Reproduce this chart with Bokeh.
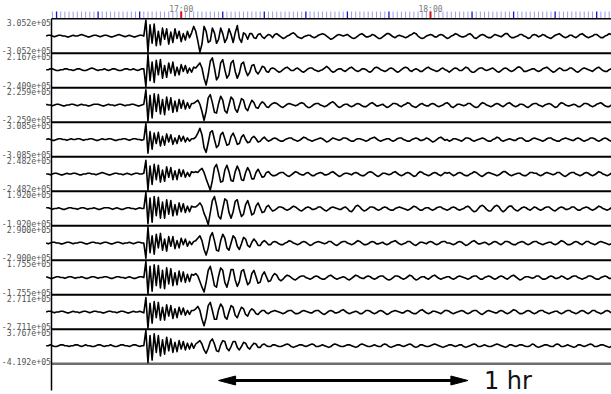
import numpy as np
from bokeh.plotting import figure
from bokeh.models import Range1d
from bokeh.embed import file_html
from bokeh.resources import INLINE
from bokeh.core.properties import value

# ---------------- data ----------------
# time in minutes after 16:00
hour_ticks = [60, 120]
hour_labels = ["17:00", "18:00"]

trace_max = [3.052e5, 2.167e5, 2.259e5, 3.085e5, 2.482e5, 1.920e5, 2.900e5, 1.755e5, 2.711e5, 3.767e5]
trace_min = [-3.052e5, -2.409e5, -2.259e5, -3.085e5, -2.482e5, -1.920e5, -2.900e5, -1.755e5, -2.711e5, -4.192e5]

SAMPLE_START = 27.5   # minutes after 16:00 of the first sample
SAMPLE_STEP = 0.5     # minutes
FULL_SCALE = 20       # sample units that equal the trace peak

scale_bar_start = 69      # minutes after 16:00
scale_bar_minutes = 60
scale_bar_label = "1 hr"

wave_01 = [
    0, 1, 1, 0, -1, 0, 1, 1, 0, 0, -1, -1, 0, 1, 0, 0,
    1, 2, 1, 0, -1, -1, 0, 1, 1, 0, -1, 0, 1, 1, 0, -1,
    -1, 0, 1, 2, 1, 0, -1, 0, 1, 0, -1, -1, 0, 1, 1, 0,
    20, -20, 14, -9, 15, -12, 6, -11, 10, -4, 9, -10,
    5, -8, 9, -3, 6, -7, 3, -5, 6, -2, 4, 12,
    6, -6, -20, -10, 12, 6, -8, -6, 10, 4, -9, -4, 10, 3, -8, -3, 9, 2, -8,
    4, 13, -3, -8, 4, 2, -4, 3, 3, -2, -3, 2, 3, -1, -3, 0, 2, 1, -2,
    2, 3, 1, -1, -3, -2, 0, 1, 3, 4, 2, -1, -2, -3, -1, 0, 1, 1, -1, -2, -1,
    1, 2, 3, 2, 0, -2, -4, -3, -1, 1, 2, 1, 0, 1, 2, 0, -2, -3, -2, 0, 2,
    3, 1, -1, -1, 0, 2, 1, -1, -3, -3, -1, 1, 3, 3, 1, -1, -2, 0, 1, 0, -1,
    -2, -1, 1, 2, 4, 3, 0, -2, -3, -2, 0, 1, 2, 1, -1, -1, 1, 2, 1, -1, -3,
    -2, 0, 1, 3, 2, 0, -1, -1, 0, 2, 3, 1, -2, -3, -1, 1, 2, 1, -1, -2, -2,
    0, 2, 1, 0, -1, 1, 3, 3, 0, -2, -2, -1, 0, 2, 2, 0, -1, -3, -2, 1, 2,
    1, -1, 0, 2, 1, -1, -2, -3, -1, 1, 2, 3, 1, -1, -2, -1, 1, 1, -1, -2, 0,
    2, 3, 1, -1, -2, -1, 0, 2, 2, 0, -2, -2, 0, 1, 3, 2, -1, -2, -1, 0, 1,
]

wave_02 = [
    0, 0, 1, 1, 0, -1, -1, 0, 0, 1, 1, 0, 0, -1, 0, 1,
    1, 0, -1, -1, 0, 1, 2, 1, 0, -1, 0, 0, 1, 0, -1, 0,
    1, 1, 0, -1, -1, 0, 1, 1, 0, 0, 1, 0, -1, 0, 1, 1,
    -20, 18, -13, 9, -15, 11, -6, 12, -10, 5, -9, 8,
    -4, 9, -7, 3, -6, 6, -2, 5, -4, 2, -3, 3,
    2, 5, 8, 2, -10, -18, -6, 10, 14, 2, -12, -8, 8, 12, 0, -10, -6, 8, 11,
    -2, -10, -4, 7, 9, -1, -7, -3, 5, 6, -2, -5, -1, 4, 3, -2, -3, 1, 2,
    1, -1, -3, -2, 0, 2, 3, 1, -1, -1, 1, 2, 0, -2, -3, -1, 1, 2, 2, 0, -1,
    -2, -1, 0, 2, 4, 2, -1, -3, -2, 0, 1, 1, -1, -2, 0, 2, 3, 1, -1, -2, -1,
    1, 1, 0, -2, -3, -1, 2, 3, 2, 0, -1, -2, -1, 1, 2, 1, -1, -3, -2, 0, 2,
    3, 2, -1, -2, 0, 1, 0, -2, -2, 0, 2, 3, 1, 0, -1, -2, -1, 1, 2, 0, -1,
    -3, -1, 1, 2, 1, -1, -1, 1, 3, 2, -1, -3, -3, -1, 1, 2, 2, 0, -1, 0, 1,
    2, 0, -2, -3, -1, 1, 2, 1, -1, -2, -1, 1, 3, 3, 1, -2, -2, -1, 0, 1, 1,
    -1, -2, -1, 1, 2, 3, 1, -1, -3, -2, 0, 2, 1, -1, -1, 0, 2, 2, 0, -2, -3,
    -1, 1, 2, 1, 0, -1, -2, 0, 2, 3, 1, -1, -2, -2, 0, 1, 2, 1, -1, -2, -1,
]

wave_03 = [
    1, 0, 0, -1, 0, 1, 1, 0, -1, -1, 0, 0, 1, 1, 0, -1,
    0, 1, 0, 0, -1, -1, 0, 1, 1, 1, 0, -1, -1, 0, 1, 0,
    0, -1, 0, 1, 1, 0, -1, 0, 0, 1, 1, 0, -1, -1, 0, 1,
    19, -20, 12, -16, 14, -8, 13, -11, 7, -12, 10, -6,
    9, -9, 5, -8, 7, -4, 6, -5, 3, -4, 2, 2,
    4, 6, 1, -8, -19, -8, 9, 13, 3, -9, -10, 2, 11, 6, -7, -10, 0, 10, 7,
    -5, -9, -1, 8, 6, -4, -7, 0, 6, 3, -3, -4, 1, 4, 2, -2, -3, 0, 2,
    3, 2, 0, -2, -3, -1, 1, 2, 1, 0, -1, 0, 2, 3, 2, -1, -3, -3, -1, 1, 2,
    2, 0, -1, -2, -1, 1, 3, 4, 2, -1, -3, -2, 0, 1, 1, -1, -2, -1, 1, 2, 1,
    -1, -2, -2, 0, 2, 3, 1, -1, -1, 0, 1, -1, -3, -2, 0, 2, 2, 1, -1, -2, 0,
    1, 3, 2, -1, -2, -3, -1, 1, 2, 0, -1, -1, 1, 2, 1, -1, -2, -1, 0, 2, 3,
    1, -2, -3, -1, 1, 1, 0, -1, 0, 2, 2, 0, -2, -3, -2, 1, 3, 2, 0, -1, -2,
    -1, 1, 2, 1, -1, -2, 0, 2, 3, 1, -1, -2, -1, 1, 1, 0, -2, -3, -1, 1, 2,
    2, 0, -1, -2, 0, 1, 2, 1, -1, -3, -2, 1, 3, 2, 0, -1, -1, 0, 1, 0, -2,
    -2, 0, 2, 2, 1, -1, -2, -1, 1, 2, 3, 1, -1, -2, -2, 0, 1, 2, 1, -1, -1,
]

wave_04 = [
    0, 1, 0, -1, -1, 0, 1, 1, 0, 0, -1, 0, 1, 0, 0, 1,
    1, 0, -1, 0, 0, 1, 1, 0, -1, -1, 0, 1, 0, 0, 1, 1,
    0, -1, -1, 0, 0, 1, 1, 0, -1, 0, 1, 1, 0, 0, -1, 0,
    20, -17, 10, -12, 8, -5, 9, -8, 4, -7, 7, -3,
    6, -6, 2, -5, 5, -2, 4, -3, 2, -2, 1, 1,
    3, 8, 14, 6, -10, -16, -4, 9, 11, 0, -10, -7, 6, 9, 1, -7, -6, 4, 8,
    2, -6, -5, 3, 6, 0, -4, -3, 2, 4, 1, -3, -2, 1, 3, 0, -2, -1, 1,
    2, 1, -1, -2, -2, 0, 1, 2, 2, 0, -1, -2, -1, 1, 3, 2, 0, -1, -2, -1, 0,
    1, 2, 1, -1, -3, -2, 0, 2, 1, 0, -1, 0, 2, 2, 1, -1, -2, -2, 0, 1, 1,
    0, -1, -2, -1, 1, 2, 3, 1, -1, -2, -1, 0, 1, 1, -1, -2, -1, 1, 2, 2, 0,
    -1, -2, -2, 0, 1, 2, 1, -1, -1, 0, 2, 1, -1, -3, -2, 0, 2, 3, 1, -1, 0,
    -2, -1, 1, 1, 0, -1, -2, 0, 2, 2, 1, -1, -2, -1, 0, 1, 2, 1, -1, -2, -2,
    0, 1, 3, 2, -1, -2, -1, 0, 1, 0, -1, -1, 1, 2, 2, 0, -2, -2, -1, 1, 2,
    1, 0, -1, -2, -1, 1, 2, 2, 0, -1, -2, -2, 0, 1, 2, 1, 0, -1, -1, 1, 2,
    1, -1, -2, -1, 0, 2, 2, 1, -1, -2, -1, 1, 2, 1, -1, -2, -2, 0, 1, 2, 1,
]

wave_05 = [
    0, 0, -1, 0, 1, 1, 0, -1, -1, 0, 1, 0, 0, 1, 1, 0,
    -1, -1, 0, 0, 1, 1, 0, 0, -1, 0, 1, 2, 1, 0, -1, -1,
    0, 1, 1, 0, 0, -1, 0, 1, 0, -1, 0, 1, 1, 0, 0, 1,
    17, -20, 10, -13, 12, -7, 11, -10, 5, -9, 9, -4,
    8, -7, 4, -7, 6, -3, 5, -4, 2, -3, 3, 2,
    3, 2, 5, 7, 2, -6, -13, -20, -8, 8, 12, 2, -10, -9, 5, 11, 3, -8, -9,
    3, 10, 4, -7, -8, 2, 8, 3, -6, -6, 2, 6, 1, -4, -3, 2, 3, 0, -2,
    -2, -1, 1, 2, 2, 0, -2, -3, -1, 1, 3, 2, 0, -1, -1, 1, 2, 0, -2, -2, 0,
    1, 2, 1, -1, -1, 0, 2, 3, 1, -1, -3, -2, 0, 1, 1, 0, -1, 1, 2, 1, -1,
    -2, -2, 0, 2, 3, 2, 0, -2, -3, -1, 1, 1, 0, -1, 0, 2, 3, 1, -1, -2, -1,
    1, 2, 1, -1, -3, -2, 1, 3, 2, 0, -1, -2, -1, 1, 2, 1, -1, -2, 0, 2, 1,
    2, 0, -2, -1, 1, 2, 1, -1, -2, -2, 0, 1, 3, 2, 0, -2, -3, -1, 1, 2, 1,
    0, -1, -2, -1, 1, 3, 3, 1, -1, -2, -1, 0, 1, 1, -1, -2, -2, 0, 2, 2, 1,
    1, -1, -2, -1, 1, 2, 1, 0, -1, 0, 2, 2, 0, -2, -3, -1, 1, 2, 2, 0, -1,
    -2, -1, 1, 2, 1, -1, -2, -1, 1, 3, 2, 0, -1, -2, -1, 1, 1, 0, -1, -2, 0,
]

wave_06 = [
    1, 1, 0, -1, 0, 0, 1, 0, -1, -1, 0, 1, 1, 0, 0, -1,
    0, 1, 1, 0, -1, 0, 0, 1, 0, -1, -1, 0, 1, 1, 1, 0,
    -1, 0, 1, 0, -1, -1, 0, 1, 1, 0, 0, -1, 0, 1, 0, 0,
    20, -19, 13, -17, 15, -9, 14, -12, 8, -12, 11, -7,
    10, -9, 5, -8, 7, -4, 6, -5, 3, -4, 3, 2,
    2, 4, 7, 3, -6, -12, -20, -5, 10, 15, 4, -10, -13, 0, 12, 10, -5, -12, -4,
    9, 11, -1, -10, -7, 5, 10, 2, -8, -6, 3, 7, 1, -5, -4, 2, 4, 0, -3,
    -2, 0, 2, 2, 1, -1, -2, -1, 1, 3, 2, 0, -2, -3, -1, 1, 2, 1, -1, -1, 0,
    2, 2, 0, -2, -3, -1, 1, 2, 1, 0, -1, -1, 1, 2, 0, -3, -4, -1, 3, 4, 2,
    -1, -3, -2, 0, 2, 2, 1, -1, -2, -1, 1, 2, 1, -1, -2, -2, 0, 1, 2, 1, 0,
    -1, -2, -1, 1, 3, 2, 0, -2, -2, 0, 1, 1, -1, -2, -1, 1, 2, 2, 0, -1, -2,
    -1, 1, 2, 1, -1, -2, -1, 0, 2, 3, 1, -2, -4, -3, 0, 3, 4, 2, -1, -3, -3,
    0, 3, 4, 2, -2, -4, -2, 1, 3, 3, 0, -2, -3, -1, 1, 2, 1, -1, -2, 0, 2,
    1, -1, -2, -1, 1, 2, 2, 0, -2, -3, -1, 1, 2, 1, -1, -1, 0, 2, 2, 0, -2,
    -2, 0, 1, 2, 1, -1, -2, -1, 1, 3, 2, 0, -1, -2, -1, 1, 2, 1, -1, -2, -1,
]

wave_07 = [
    0, -1, 0, 1, 1, 0, 0, -1, -1, 0, 1, 1, 0, -1, 0, 0,
    1, 1, 0, -1, -1, 0, 1, 1, 0, 0, -1, 0, 1, 1, 0, -1,
    -1, 0, 1, 1, 0, -1, 0, 0, 1, 0, -1, 0, 1, 1, 0, 0,
    -19, 20, -12, 9, -14, 11, -6, 12, -9, 5, -10, 8,
    -4, 8, -7, 3, -6, 6, -2, 5, -4, 2, -2, 2,
    3, 6, 9, 3, -8, -15, -6, 8, 13, 3, -9, -10, 3, 11, 6, -6, -9, 0, 9,
    6, -4, -8, -1, 7, 5, -3, -5, 1, 5, 2, -3, -3, 1, 3, 1, -2, -2, 1,
    2, 1, -1, -2, -2, 0, 1, 3, 2, 0, -1, -2, -1, 1, 2, 1, -1, -3, -2, 0, 1,
    2, 1, 0, -1, 0, 2, 2, 0, -2, -3, -1, 1, 2, 2, 0, -1, -2, -1, 1, 3, 2,
    0, -2, -2, -1, 1, 2, 1, -1, -1, 0, 1, -1, -2, -1, 1, 2, 3, 1, -1, -2, -1,
    0, 2, 2, 0, -2, -3, -1, 1, 1, 0, -1, 1, 2, 1, -1, -2, -1, 1, 2, 2, 0,
    0, -1, -2, -1, 1, 2, 1, -1, -3, -2, 0, 2, 3, 1, -1, -1, 0, 1, 0, -2, -1,
    1, 2, 1, -1, -2, 0, 2, 2, 1, -1, -2, -2, 0, 1, 2, 1, -1, -2, -1, 1, 2,
    2, 0, -1, -2, -1, 0, 1, 1, -1, -2, -1, 1, 3, 2, 0, -2, -2, -1, 1, 2, 1,
    -1, -2, 0, 2, 2, 0, -1, -2, -1, 1, 2, 1, 0, -1, -2, -1, 1, 2, 2, 0, -1,
]

wave_08 = [
    1, 0, -1, -1, 0, 1, 1, 0, 0, -1, 0, 1, 1, 0, -1, 0,
    0, 1, 0, -1, -1, 0, 1, 1, 0, -1, 0, 0, 1, 1, 0, -1,
    -1, 0, 1, 1, 0, 0, -1, 0, 1, 0, -1, -1, 0, 1, 1, 0,
    20, -20, 14, -17, 16, -10, 15, -13, 9, -14, 12, -8,
    11, -10, 6, -9, 8, -5, 7, -6, 4, -5, 4, 3,
    5, 2, -5, -12, -18, -6, 9, 14, 3, -10, -12, 2, 12, 9, -6, -12, -2, 10, 10,
    -3, -11, -5, 8, 10, 0, -9, -6, 5, 9, 1, -7, -6, 3, 7, 1, -5, -4, 2,
    5, 3, -2, -4, -2, 1, 3, 2, 0, -2, -3, -1, 1, 2, 2, 0, -1, -2, -1, 1, 2,
    1, -1, -2, -2, 0, 2, 3, 1, -1, -2, -1, 0, 1, 0, -2, -3, -1, 1, 3, 2, 0,
    -1, -1, 1, 2, 1, -1, -2, -1, 1, 2, 2, 0, -2, -3, -2, 0, 2, 2, 1, -1, -2,
    -1, 1, 3, 2, -1, -3, -2, 0, 1, 1, -1, -2, 0, 2, 3, 1, -1, -2, -1, 0, 1,
    1, -1, -2, -1, 1, 2, 1, 0, -1, -2, -1, 1, 2, 2, 0, -2, -2, 0, 1, 2, 1,
    -1, -2, -1, 1, 2, 1, -1, -2, 0, 2, 3, 1, -1, -3, -2, 0, 1, 1, 0, -1, 0,
    2, 2, 0, -2, -2, -1, 1, 2, 1, -1, -1, 0, 2, 1, -1, -2, -1, 1, 2, 2, 0,
    -1, -2, -1, 0, 2, 2, 1, -1, -2, -2, 0, 1, 2, 1, -1, -1, 0, 2, 2, 0, -2,
]

wave_09 = [
    0, 1, 1, 0, -1, 0, 0, 1, 1, 0, -1, -1, 0, 1, 0, 0,
    -1, 0, 1, 1, 0, -1, 0, 1, 1, 0, 0, -1, -1, 0, 1, 1,
    0, 0, -1, 0, 1, 1, 0, -1, -1, 0, 1, 0, 0, 1, 0, -1,
    18, -20, 11, -14, 13, -7, 12, -10, 6, -10, 9, -5,
    8, -8, 4, -7, 6, -3, 5, -4, 2, -3, 2, 2,
    4, 7, 2, -9, -17, -7, 8, 12, 2, -9, -9, 3, 10, 6, -6, -9, 0, 8, 6,
    -4, -7, 0, 6, 4, -3, -5, 1, 4, 2, -2, -3, 0, 2, 2, -1, -2, 0, 1,
    2, 1, 0, -1, -2, -1, 1, 2, 2, 0, -2, -2, -1, 1, 2, 1, 0, -1, -1, 1, 2,
    2, 0, -2, -3, -1, 1, 2, 1, -1, -1, 0, 2, 3, 1, -1, -2, -1, 0, 1, 0, -2,
    -2, 0, 2, 2, 1, -1, -2, -1, 1, 2, 1, -1, -3, -2, 0, 1, 2, 1, 0, -1, -1,
    1, 2, 1, -1, -2, -2, 0, 2, 3, 1, -1, -2, -1, 1, 1, 0, -1, -2, 0, 2, 2,
    1, -1, -2, -1, 0, 1, 2, 1, -1, -2, -1, 1, 2, 2, 0, -2, -3, -1, 1, 2, 1,
    0, -1, -1, 1, 2, 1, -1, -2, -1, 1, 3, 2, 0, -2, -2, -1, 1, 2, 1, -1, -2,
    -1, 1, 2, 2, 0, -1, -2, -1, 0, 1, 1, -1, -2, -1, 1, 2, 2, 0, -1, -2, -1,
    1, 2, 1, -1, -2, 0, 2, 2, 0, -1, -2, -1, 1, 2, 1, -1, -2, -1, 1, 2, 1,
]

wave_10 = [
    0, 0, 1, 0, -1, -1, 0, 1, 1, 0, 0, -1, 0, 0, 1, 1,
    0, -1, 0, 1, 0, 0, -1, -1, 0, 1, 1, 0, -1, 0, 0, 1,
    0, -1, -1, 0, 1, 1, 0, 0, -1, 0, 1, 1, 0, -1, 0, 0,
    18, -20, 12, -17, 14, -8, 12, -12, 7, -10, 10, -6,
    8, -8, 4, -7, 6, -4, 5, -5, 3, -4, 3, -3,
    2, 4, 6, 2, -5, -9, -3, 5, 8, 2, -6, -7, 1, 6, 5, -3, -6, -1, 5,
    5, -2, -5, -1, 4, 3, -2, -4, 0, 3, 2, -2, -2, 1, 2, 0, -1, -1, 1,
    1, 0, -1, -1, 0, 1, 2, 1, -1, -2, -1, 0, 1, 1, 0, -1, 0, 1, 2, 1, -1,
    -1, 0, 1, 0, -1, -2, -1, 1, 2, 1, 0, -1, -1, 0, 1, 1, 0, -1, -2, -1, 1,
    2, 1, 0, -1, -1, 0, 1, 0, -1, -1, 1, 2, 1, -1, -2, -1, 0, 1, 1, 0, -1,
    0, 1, 2, 1, -1, -2, -1, 1, 1, 0, -1, -1, 0, 1, 2, 1, 0, -1, -2, -1, 0,
    1, 1, 0, -1, 0, 1, 1, -1, -2, -1, 0, 1, 2, 1, -1, -1, 0, 1, 0, -1, -1,
    0, 1, 2, 1, 0, -1, -2, -1, 1, 1, 0, -1, 0, 1, 1, 0, -1, -1, 0, 2, 1,
    -1, -2, -1, 0, 1, 1, 0, -1, -1, 1, 2, 1, -1, -1, 0, 1, 0, -1, -2, -1, 1,
    1, 0, -1, 0, 1, 2, 1, -1, -1, 0, 1, 1, 0, -1, -2, -1, 1, 2, 1, 0, -1,
]

waves = [wave_01, wave_02, wave_03, wave_04, wave_05,
         wave_06, wave_07, wave_08, wave_09, wave_10]

# ---------------- layout (picture pixels) ----------------
FIG_W, FIG_H = 611, 394
PX_PER_MIN = 4.155          # 1 hour = 249.3 px
X_1700 = 180.7              # x of 17:00
AXIS_X = 51                 # x of the left vertical line
PANEL_TOP = 18.3
PANEL_H = 34.5
PAD = 1.2
TICK_TOP = 11


def minute_at(px):
    return 60 + (px - X_1700) / PX_PER_MIN


p = figure(width=FIG_W, height=FIG_H,
           x_range=Range1d(minute_at(0), minute_at(FIG_W)),
           y_range=Range1d(FIG_H, 0),
           x_axis_location=None, y_axis_location=None,
           output_backend="svg", toolbar_location=None,
           min_border=0, min_border_left=0, min_border_right=0,
           min_border_top=0, min_border_bottom=0)
p.outline_line_color = None
p.background_fill_color = "white"
p.border_fill_color = "white"
p.grid.visible = False

n_panels = len(waves)
x_left = minute_at(AXIS_X)
x_right = minute_at(FIG_W + 5)

# time ticks (1 min, 10 min, 1 hour)
first_min = int(np.ceil(minute_at(AXIS_X + 0.5)))
last_min = int(np.floor(minute_at(FIG_W)))
minutes = np.arange(first_min, last_min + 1)
minor = [int(m) for m in minutes if m % 10 != 0]
tens = [int(m) for m in minutes if m % 10 == 0 and m % 60 != 0]
hours = [int(m) for m in minutes if m in hour_ticks]
p.segment(x0=minor, x1=minor, y0=[TICK_TOP] * len(minor), y1=[PANEL_TOP] * len(minor),
          line_color="#9e9ee2", line_width=1)
p.segment(x0=tens, x1=tens, y0=[TICK_TOP] * len(tens), y1=[PANEL_TOP] * len(tens),
          line_color="#1818c8", line_width=1.3)
p.segment(x0=hours, x1=hours, y0=[TICK_TOP] * len(hours), y1=[PANEL_TOP] * len(hours),
          line_color="#e01010", line_width=2)
p.text(x=hour_ticks, y=[9] * len(hour_ticks), text=hour_labels,
       text_align="center", text_baseline="middle",
       text_font=value("DejaVu Sans Mono"), text_font_size="8px", text_color="#777777")

# panel borders
p.segment(x0=[x_left], x1=[x_right], y0=[PANEL_TOP], y1=[PANEL_TOP],
          line_color="black", line_width=1.5)
for k in range(1, n_panels + 1):
    yk = PANEL_TOP + k * PANEL_H
    last = k == n_panels
    p.segment(x0=[x_left], x1=[x_right], y0=[yk], y1=[yk],
              line_color="#6e6e6e" if last else "black", line_width=2.4 if last else 2)
p.segment(x0=[x_left], x1=[x_left], y0=[PANEL_TOP], y1=[390],
          line_color="black", line_width=1.5)

# traces and their max / min labels
lab_x, lab_y, lab_t = [], [], []
for k, (wave, vmax, vmin) in enumerate(zip(waves, trace_max, trace_min)):
    peak = max(abs(vmax), abs(vmin))
    counts = np.array(wave, dtype=float) / FULL_SCALE * peak
    top = PANEL_TOP + k * PANEL_H
    y = top + PAD + (vmax - counts) / (vmax - vmin) * (PANEL_H - 2 * PAD)
    t = SAMPLE_START + SAMPLE_STEP * np.arange(len(wave))
    p.line(t, y, line_color="black", line_width=1.6, line_join="round")
    lab_x += [minute_at(AXIS_X - 0.5), minute_at(AXIS_X - 0.5)]
    lab_y += [top + 3.2, top + PANEL_H - 2.6]
    lab_t += [f"{vmax:.3e}", f"{vmin:.3e}"]

p.text(x=lab_x, y=lab_y, text=lab_t, text_align="right", text_baseline="middle",
       text_font=value("DejaVu Sans Mono"), text_font_size="8.2px", text_color="#555555")

# 1 hour scale bar
bar_y = 380
head_len = 17 / PX_PER_MIN
head_half = 4.5
bx0 = scale_bar_start
bx1 = scale_bar_start + scale_bar_minutes
p.segment(x0=[bx0 + head_len * 0.8], x1=[bx1 - head_len * 0.8], y0=[bar_y], y1=[bar_y],
          line_color="black", line_width=3)
p.patches(xs=[[bx0, bx0 + head_len, bx0 + head_len], [bx1, bx1 - head_len, bx1 - head_len]],
          ys=[[bar_y, bar_y - head_half, bar_y + head_half], [bar_y, bar_y - head_half, bar_y + head_half]],
          fill_color="black", line_color="black", line_width=1)
p.text(x=[bx1 + 16 / PX_PER_MIN], y=[394], text=[scale_bar_label],
       text_align="left", text_baseline="bottom",
       text_font=value("DejaVu Sans"), text_font_size="24px", text_color="#111111")

open("out.html", "w").write(file_html(p, INLINE))
